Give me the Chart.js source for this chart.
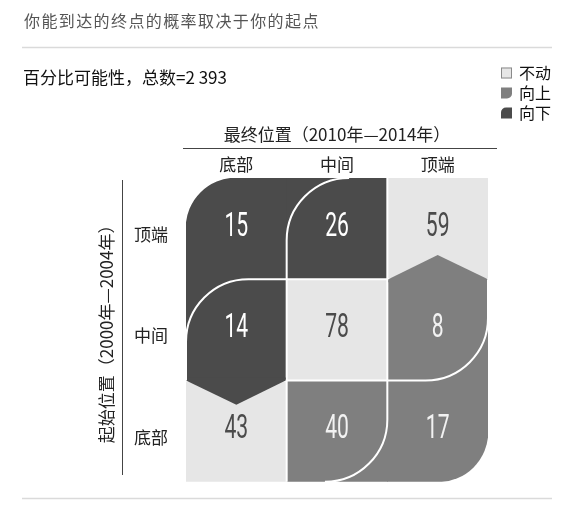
<!DOCTYPE html>
<html lang="zh">
<head>
<meta charset="utf-8">
<title>你能到达的终点的概率取决于你的起点</title>
<script src="https://cdn.jsdelivr.net/npm/chart.js@4.4.1/dist/chart.umd.min.js"></script>
<style>
  html, body { margin: 0; padding: 0; background: #fff; }
</style>
</head>
<body>
<canvas id="chartCanvas" width="566" height="510"></canvas>
<script>
// position levels, low -> high
const levels = ['底部', '中间', '顶端'];
// 最终位置 (columns, left -> right) and 起始位置 (rows, top -> bottom)
const finalCols = ['底部', '中间', '顶端'];
const startRows = ['顶端', '中间', '底部'];

// percentages per starting row, in finalCols order
const pctTop = [15, 26, 59];
const pctMiddle = [14, 78, 8];
const pctBottom = [43, 40, 17];
const pctRows = [pctTop, pctMiddle, pctBottom];

const moveLabels = ['不动', '向上', '向下'];
const moveColors = ['#e6e6e6', '#7f7f7f', '#4b4b4b'];
const moveText = ['#4b4b4b', '#f2f2f2', '#ffffff'];
const totalCount = '2 393';

const cjk = "'Noto Sans CJK SC', 'Noto Sans', sans-serif";
Chart.defaults.font.family = cjk;
Chart.defaults.color = '#222';

// 0 = stayed, 1 = moved up, 2 = moved down
function moveOf(r, c) {
  const d = levels.indexOf(finalCols[c]) - levels.indexOf(startRows[r]);
  return d === 0 ? 0 : (d > 0 ? 1 : 2);
}

// one floating bar per column for each kind of move: [first row, last row + 1]
function spansFor(m) {
  return finalCols.map((_, c) => {
    const hit = startRows.map((_, r) => r).filter(r => moveOf(r, c) === m);
    return hit.length ? [Math.min(...hit), Math.max(...hit) + 1] : null;
  });
}

// arcs, separators, arrows and the numbers inside the cells
const cellDecor = {
  id: 'cellDecor',
  afterDatasetsDraw(chart) {
    const { ctx, scales: { x, y } } = chart;
    const box = (r, c) => ({
      l: x.getPixelForValue(c - 0.5), r: x.getPixelForValue(c + 0.5),
      t: y.getPixelForValue(r), b: y.getPixelForValue(r + 1)
    });
    const nR = startRows.length, nC = finalCols.length;
    ctx.save();

    // white lines between cells of a different kind
    ctx.strokeStyle = '#fff';
    ctx.lineWidth = 2;
    for (let r = 0; r < nR; r++) {
      for (let c = 0; c < nC; c++) {
        const b = box(r, c);
        ctx.beginPath();
        if (c > 0 && moveOf(r, c) !== moveOf(r, c - 1)) {
          ctx.moveTo(b.l, b.t); ctx.lineTo(b.l, b.b);
        }
        if (r > 0 && moveOf(r, c) !== moveOf(r - 1, c)) {
          ctx.moveTo(b.l, b.t); ctx.lineTo(b.r, b.t);
        }
        ctx.stroke();
      }
    }

    // arrows for the middle starting row
    startRows.forEach((row, r) => {
      if (row !== '中间') return;
      finalCols.forEach((_, c) => {
        const m = moveOf(r, c);
        if (m === 0) return;
        const b = box(r, c);
        const h = (b.b - b.t) * 0.24;
        const mid = (b.l + b.r) / 2;
        ctx.fillStyle = moveColors[m];
        ctx.beginPath();
        if (m === 2) {
          ctx.moveTo(b.l, b.b - 3); ctx.lineTo(b.l, b.b); ctx.lineTo(mid, b.b + h);
          ctx.lineTo(b.r - 1, b.b); ctx.lineTo(b.r - 1, b.b - 3);
        } else {
          ctx.moveTo(b.l + 1, b.t + 3); ctx.lineTo(b.l + 1, b.t); ctx.lineTo(mid, b.t - h);
          ctx.lineTo(b.r, b.t); ctx.lineTo(b.r, b.t + 3);
        }
        ctx.closePath();
        ctx.fill();
      });
    });

    // rounded outline of each moved cell (the grid corners are the bars' own radius)
    ctx.strokeStyle = '#fff';
    ctx.lineWidth = 2;
    for (let r = 0; r < nR; r++) {
      for (let c = 0; c < nC; c++) {
        const m = moveOf(r, c);
        const b = box(r, c);
        const rho = (b.r - b.l) * 0.62;
        ctx.beginPath();
        if (m === 2 && !(r === 0 && c === 0)) {
          ctx.moveTo(b.l, b.b);
          ctx.lineTo(b.l, b.t + rho);
          ctx.arc(b.l + rho, b.t + rho, rho, Math.PI, 1.5 * Math.PI);
          if (r > 0) ctx.lineTo(b.r, b.t);
        } else if (m === 1 && !(r === nR - 1 && c === nC - 1)) {
          if (r < nR - 1) { ctx.moveTo(b.l, b.b); ctx.lineTo(b.r - rho, b.b); }
          else ctx.moveTo(b.r - rho, b.b);
          ctx.arc(b.r - rho, b.b - rho, rho, 0.5 * Math.PI, 0, true);
          ctx.lineTo(b.r, b.t);
        }
        ctx.stroke();
      }
    }

    // values
    ctx.font = "400 33px Roboto, 'DejaVu Sans', sans-serif";
    ctx.textAlign = 'center';
    ctx.textBaseline = 'alphabetic';
    pctRows.forEach((vals, r) => {
      vals.forEach((v, c) => {
        const b = box(r, c);
        const cx = (b.l + b.r) / 2;
        const cy = (b.t + b.b) / 2 + 7;
        ctx.fillStyle = moveText[moveOf(r, c)];
        ctx.save();
        ctx.translate(cx, cy);
        ctx.scale(0.64, 1);
        ctx.fillText(String(v), 0, 0);
        ctx.restore();
      });
    });
    ctx.restore();
  }
};

// title, subtitle, rules and the legend
const pageDecor = {
  id: 'pageDecor',
  afterDraw(chart) {
    const { ctx } = chart;
    ctx.save();
    ctx.textBaseline = 'middle';
    ctx.textAlign = 'left';

    ctx.fillStyle = '#555';
    ctx.font = '16px ' + cjk;
    ctx.letterSpacing = '1.4px';
    ctx.fillText('你能到达的终点的概率取决于你的起点', 24, 21);
    ctx.letterSpacing = '0px';

    ctx.strokeStyle = '#dadada';
    ctx.lineWidth = 1.5;
    ctx.beginPath();
    ctx.moveTo(22, 47.5); ctx.lineTo(552, 47.5);
    ctx.moveTo(22, 498.5); ctx.lineTo(552, 498.5);
    ctx.stroke();

    ctx.fillStyle = '#111';
    ctx.font = '17px ' + cjk;
    ctx.fillText('百分比可能性，总数=' + totalCount, 23, 78);

    // header rule and the rule beside the row labels
    ctx.strokeStyle = '#444';
    ctx.lineWidth = 1;
    ctx.beginPath();
    ctx.moveTo(183, 148.5); ctx.lineTo(497, 148.5);
    ctx.moveTo(122.5, 180); ctx.lineTo(122.5, 475);
    ctx.stroke();

    // legend
    ctx.font = '16px ' + cjk;
    chart.data.datasets.forEach((ds, i) => {
      const yy = 73 + i * 20;
      ctx.fillStyle = ds.backgroundColor;
      ctx.beginPath();
      const radii = i === 1 ? [0, 0, 5, 0] : (i === 2 ? [5, 0, 0, 0] : [0, 0, 0, 0]);
      ctx.roundRect(501, yy - 5.5, 11, 11, radii);
      ctx.fill();
      if (i === 0) {
        ctx.strokeStyle = '#8a8a8a';
        ctx.strokeRect(501.5, yy - 5, 10, 10);
      }
      ctx.fillStyle = '#111';
      ctx.fillText(ds.label, 519, yy);
    });
    ctx.restore();
  }
};

const ctx = document.getElementById('chartCanvas').getContext('2d');
new Chart(ctx, {
  type: 'bar',
  data: {
    labels: finalCols,
    datasets: moveLabels.map((label, m) => ({
      label: label,
      data: spansFor(m),
      backgroundColor: moveColors[m],
      borderWidth: 0,
      borderSkipped: false,
      barPercentage: 1,
      categoryPercentage: 1,
      grouped: false,
      borderRadius: c => {
        const a = c.chart.chartArea;
        const v = c.raw;
        if (!a || !v) return 0;
        const R = (a.right - a.left) / finalCols.length * 0.57;
        return {
          topLeft: c.dataIndex === 0 && v[0] === 0 ? R : 0,
          topRight: 0,
          bottomLeft: 0,
          bottomRight: c.dataIndex === finalCols.length - 1 && v[1] === startRows.length ? R : 0
        };
      }
    }))
  },
  options: {
    responsive: false,
    animation: false,
    layout: { padding: { left: 96, right: 78, top: 124, bottom: 28 } },
    plugins: {
      legend: { display: false },
      title: { display: false },
      tooltip: { enabled: false }
    },
    scales: {
      x: {
        position: 'top',
        grid: { display: false, drawTicks: false },
        border: { display: false },
        ticks: { padding: 3, font: { size: 17 }, color: '#222' },
        title: {
          display: true,
          text: '最终位置（2010年—2014年）',
          font: { size: 17 },
          color: '#222',
          padding: 0
        },
        afterFit: s => { s.height = 54; }
      },
      y: {
        type: 'linear',
        reverse: true,
        min: 0,
        max: startRows.length,
        grid: { display: false, drawTicks: false },
        border: { display: false },
        afterBuildTicks: s => { s.ticks = startRows.map((_, i) => ({ value: i + 0.5 })); },
        ticks: {
          padding: 18,
          labelOffset: 6,
          font: { size: 17 },
          color: '#222',
          callback: v => startRows[Math.floor(v)]
        },
        title: {
          display: true,
          text: '起始位置（2000年—2004年）',
          font: { size: 17 },
          color: '#222',
          padding: 0
        },
        afterFit: s => { s.width = 90; }
      }
    }
  },
  plugins: [cellDecor, pageDecor]
});
</script>
</body>
</html>
